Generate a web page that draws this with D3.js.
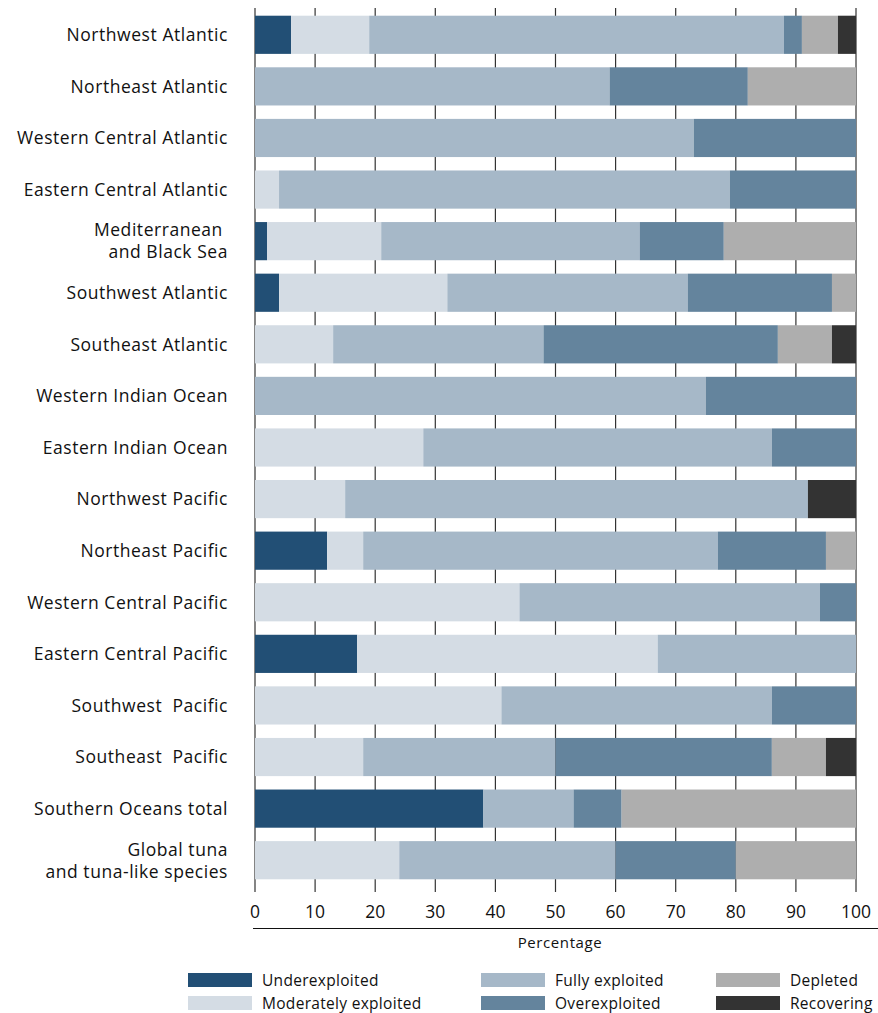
<!DOCTYPE html>
<html><head><meta charset="utf-8">
<script src="https://cdn.jsdelivr.net/npm/d3@7/dist/d3.min.js"></script>
<style>
body{margin:0;background:#fff;}
svg text{font-family:"Open Sans","Noto Sans",sans-serif;fill:#111;white-space:pre;}
</style></head><body>
<svg id="c" width="878" height="1013"></svg>
<script>
const categories = [
  ["Northwest Atlantic"],
  ["Northeast Atlantic"],
  ["Western Central Atlantic"],
  ["Eastern Central Atlantic"],
  ["Mediterranean ", "and Black Sea"],
  ["Southwest Atlantic"],
  ["Southeast Atlantic"],
  ["Western Indian Ocean"],
  ["Eastern Indian Ocean"],
  ["Northwest Pacific"],
  ["Northeast Pacific"],
  ["Western Central Pacific"],
  ["Eastern Central Pacific"],
  ["Southwest  Pacific"],
  ["Southeast  Pacific"],
  ["Southern Oceans total"],
  ["Global tuna", "and tuna-like species"]
];
const seriesNames = ["Underexploited","Moderately exploited","Fully exploited","Overexploited","Depleted","Recovering"];
const underexploited = [6,0,0,0,2,4,0,0,0,0,12,0,17,0,0,38,0];
const moderately     = [13,0,0,4,19,28,13,0,28,15,6,44,50,41,18,0,24];
const fully          = [69,59,73,75,43,40,35,75,58,77,59,50,33,45,32,15,36];
const overexploited  = [3,23,27,21,14,24,39,25,14,0,18,6,0,14,36,8,20];
const depleted       = [6,18,0,0,22,4,9,0,0,0,5,0,0,0,9,39,20];
const recovering     = [3,0,0,0,0,0,4,0,0,8,0,0,0,0,5,0,0];
const tickValues = [0,10,20,30,40,50,60,70,80,90,100];
const colors = ["#224f75","#d4dce4","#a6b8c8","#64849d","#aeaeae","#333333"];

const svg = d3.select("#c");
const x = d3.scaleLinear().domain([0,100]).range([255,856]);
const y = d3.scaleBand().domain(d3.range(categories.length)).range([9,886]).paddingInner(0.26).paddingOuter(0.13);

const rows = categories.map((c,i)=>{
  const o = {i};
  [underexploited,moderately,fully,overexploited,depleted,recovering].forEach((s,k)=>o[seriesNames[k]]=s[i]);
  return o;
});
const stack = d3.stack().keys(seriesNames)(rows);

// gridlines
svg.append("g").selectAll("line").data(tickValues).join("line")
  .attr("x1",d=>x(d)).attr("x2",d=>x(d)).attr("y1",8).attr("y2",892)
  .attr("stroke","#333").attr("stroke-width",1.2);

// bars
svg.append("g").selectAll("g").data(stack).join("g")
  .attr("fill",(d,k)=>colors[k])
  .selectAll("rect").data(d=>d).join("rect")
  .attr("x",d=>x(d[0])).attr("width",d=>Math.max(0,x(d[1])-x(d[0])))
  .attr("y",(d,i)=>y(i)).attr("height",y.bandwidth());

// category labels
const lab = svg.append("g").selectAll("text").data(categories).join("text")
  .attr("text-anchor","end").attr("font-size",17.5).attr("letter-spacing","0.55px")
  .attr("transform",(d,i)=>`translate(228,${y(i)+y.bandwidth()/2})`);
lab.each(function(d){
  const t = d3.select(this);
  const n = d.length;
  d.forEach((line,j)=>{
    t.append("tspan").attr("x",0).attr("y",(j-(n-1)/2)*22).attr("dy","0.36em").text(line);
  });
});

// tick labels
svg.append("g").selectAll("text").data(tickValues).join("text")
  .attr("x",d=>x(d)).attr("y",918).attr("text-anchor","middle").attr("font-size",17.5).text(d=>d);

// axis line
svg.append("line").attr("x1",253).attr("x2",878).attr("y1",928.5).attr("y2",928.5).attr("stroke","#111").attr("stroke-width",1.2);
svg.append("text").attr("x",560).attr("y",948).attr("text-anchor","middle").attr("font-size",15).attr("letter-spacing","0.6px").text("Percentage");

// legend
const legPos = [[188,980],[188,1003],[481,980],[481,1003],[716,980],[716,1003]];
const leg = svg.append("g").selectAll("g").data(seriesNames).join("g")
  .attr("transform",(d,k)=>`translate(${legPos[k][0]},${legPos[k][1]})`);
leg.append("rect").attr("x",0).attr("y",-7).attr("width",64).attr("height",14).attr("fill",(d,k)=>colors[k]);
leg.append("text").attr("x",74).attr("y",0).attr("dy","0.36em").attr("font-size",15.5).attr("letter-spacing","0.3px").text(d=>d);
</script></body></html>
